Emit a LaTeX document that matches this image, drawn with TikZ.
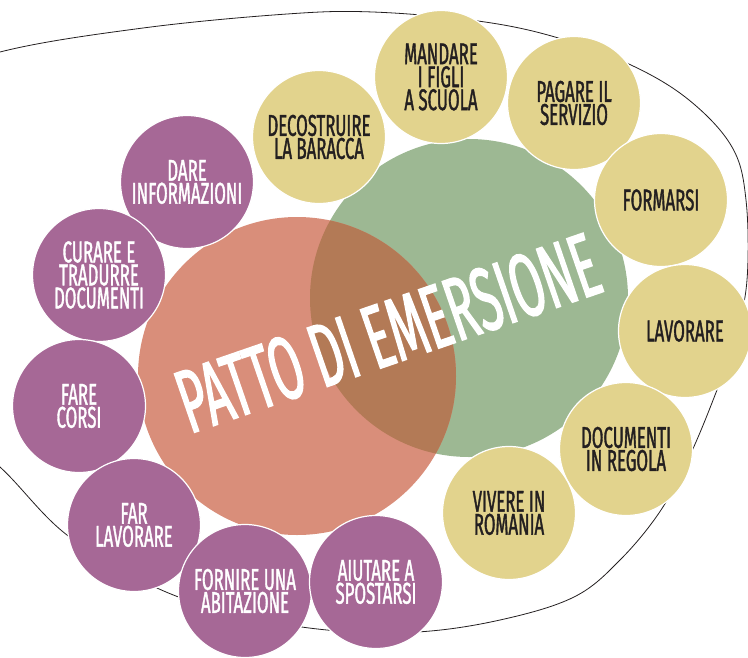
\documentclass[tikz,border=0pt]{standalone}
\usepackage{fontspec}
\newfontfamily\dinfont[FakeStretch=0.56, FakeBold=1.2]{Fira Sans}
\newfontfamily\dinbig[FakeStretch=0.52, FakeBold=1.5]{Fira Sans}
\definecolor{viola}{HTML}{A66896}
\definecolor{giallo}{HTML}{E2D38D}
\definecolor{salmone}{HTML}{D98E7A}
\definecolor{salvia}{HTML}{9DB893}
\definecolor{bruno}{HTML}{B37A56}
\definecolor{nero}{HTML}{231F20}
\begin{document}
\begin{tikzpicture}
	[x=1pt, y=-1pt,
	every node/.style={circle, inner sep=0pt, minimum size=133pt, align=center,
		draw=white, line width=1.2pt, font=\dinfont\fontsize{30}{23}\selectfont},
	servizio/.style={fill=viola, text=white},
	bisogno/.style={fill=giallo, text=nero},
	grande/.style={minimum size=318pt, draw=none}]
	\useasboundingbox (0,0) rectangle (748,657);
	% contorno
	\begin{scope}
		\clip (0,0) rectangle (748,657);
		\draw[line width=0.8pt, nero] plot[smooth cycle, tension=0.6] coordinates
		{(0,467) (-60,420) (-130,330) (-140,200) (-100,90) (0,52) (143,28) (287,14)
		(373,12) (478,21) (555,37) (631,65) (689,100) (732,147) (746,200) (747,280)
		(735,340) (717,390) (691,453) (661,510) (620,560) (574,597) (500,620)
		(417,632) (327,630) (240,615) (157,588) (67,535)};
	\end{scope}
	% patto
	\node[grande, fill=salvia] (verde) at (469,298) {};
	\node[grande, fill=salmone] (rosa) at (297,376) {};
	\begin{scope}
		\clip (297,376) circle (159pt);
		\fill[bruno] (469,298) circle (159pt);
	\end{scope}
	\node[draw=none, rectangle, text=white, rotate=19, font=\dinbig\fontsize{90}{90}\selectfont]
		(patto) at (388,333) {PATTO DI EMERSIONE};
	% servizi
	\node[servizio] (dare) at (187,182) {DARE\\INFORMAZIONI};
	\node[servizio] (curare) at (99,275) {CURARE E\\TRADURRE\\DOCUMENTI};
	\node[servizio] (corsi) at (79,406) {FARE\\CORSI};
	\node[servizio] (farlav) at (134,525) {FAR\\LAVORARE};
	\node[servizio] (casa) at (245,591) {FORNIRE UNA\\ABITAZIONE};
	\node[servizio] (spostarsi) at (376,582) {AIUTARE A\\SPOSTARSI};
	% bisogni
	\node[bisogno] (baracca) at (319,137) {DECOSTRUIRE\\LA BARACCA};
	\node[bisogno] (scuola) at (441,77) {MANDARE\\I FIGLI\\A SCUOLA};
	\node[bisogno] (pagare) at (574,103) {PAGARE IL\\SERVIZIO};
	\node[bisogno] (formarsi) at (661,200) {FORMARSI};
	\node[bisogno] (lavorare) at (685,331) {LAVORARE};
	\node[bisogno] (regola) at (626,449) {DOCUMENTI\\IN REGOLA};
	\node[bisogno] (romania) at (509,513) {VIVERE IN\\ROMANIA};
\end{tikzpicture}
\end{document}
